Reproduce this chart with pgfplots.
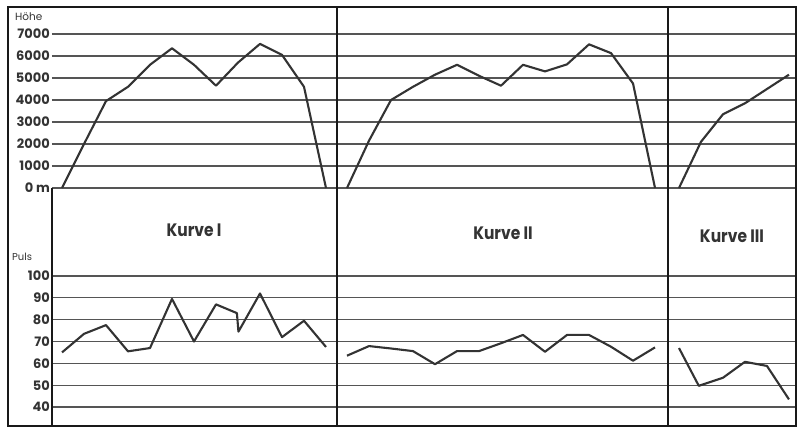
\documentclass[border=0pt]{standalone}
\usepackage{fontspec}
\setmainfont{Poppins}
\newfontfamily\kfont[FakeStretch=0.86]{Poppins}
\usepackage{pgfplots}
\pgfplotsset{compat=1.18}
\definecolor{ink}{HTML}{333333}
\definecolor{gridc}{HTML}{555555}
\pgfplotsset{
  panel/.style={
    scale only axis, anchor=south west,
    axis line style={draw=none},
    major tick length=0pt,
    xtick=\empty,
    ymajorgrids,
    grid style={line width=1.1pt, color=gridc},
    clip=false,
    yticklabel style={font=\bfseries\fontsize{13}{14}\selectfont, text=ink, inner sep=2pt},
  },
  dataline/.style={line width=2.1pt, color=ink, line join=round, no marks},
  top/.style={panel, height=181pt, ymin=0, ymax=8227, ytick={0,1000,...,7000}},
  bot/.style={panel, height=238pt, ymin=31.3, ymax=140.3, ytick={40,50,...,100}},
}
\begin{document}
\begin{tikzpicture}[x=1pt,y=1pt]
\path[use as bounding box] (0,0) rectangle (801,429);
% ---------- Kurve I ----------
\begin{axis}[top, at={(52pt,241pt)}, width=285pt, xmin=-0.4545, xmax=12.5,
  yticklabels={0 m,1000,2000,3000,4000,5000,6000,7000}]
\addplot[dataline] coordinates {(0,0)(1,2000)(2,3950)(3,4600)(4,5600)(5,6350)(6,5600)(7,4650)(8,5700)(9,6550)(10,6050)(11,4600)(12,0)};
\end{axis}
\begin{axis}[bot, at={(52pt,3pt)}, width=285pt, xmin=-0.4545, xmax=12.5,
  yticklabels={40,50,60,70,80,90,100}]
\addplot[dataline] coordinates {(0,65)(1,73.5)(2,77.5)(3,65.5)(4,67)(5,89.5)(6,70)(7,87)(7.95,83)(8.02,74.5)(9,92)(10,72)(11,79.5)(12,67.5)};
\end{axis}
% ---------- Kurve II ----------
\begin{axis}[top, at={(337pt,241pt)}, width=331pt, xmin=-0.4545, xmax=14.59, yticklabels=\empty]
\addplot[dataline] coordinates {(0,0)(1,2150)(2,4000)(3,4600)(4,5150)(5,5600)(6,5100)(7,4650)(8,5600)(9,5300)(10,5620)(11,6530)(12,6130)(13,4750)(14,0)};
\end{axis}
\begin{axis}[bot, at={(337pt,3pt)}, width=331pt, xmin=-0.4545, xmax=14.59, yticklabels=\empty]
\addplot[dataline] coordinates {(0,63.5)(1,67.9)(2,66.8)(3,65.6)(4,59.6)(5,65.6)(6,65.6)(7,69.2)(8,73)(9,65.3)(10,73)(11,73)(12,67.6)(13,61.2)(14,67.3)};
\end{axis}
% ---------- Kurve III ----------
\begin{axis}[top, at={(668pt,241pt)}, width=128pt, xmin=-0.5, xmax=5.32, yticklabels=\empty]
\addplot[dataline] coordinates {(0,0)(1,2100)(2,3350)(3,3850)(4,4500)(5,5150)};
\end{axis}
\begin{axis}[bot, at={(668pt,3pt)}, width=128pt, xmin=-0.5, xmax=5.32, yticklabels=\empty]
\addplot[dataline] coordinates {(0,67)(0.9,49.7)(2,53.4)(3,60.7)(4,58.8)(5,43.5)};
\end{axis}
% ---------- frame ----------
\draw[line width=1.8pt, color=black!90] (8,3) rectangle (796,422);
\draw[line width=1.6pt, color=black!90] (337,3) -- (337,422);
\draw[line width=1.6pt, color=black!90] (668,3) -- (668,422);
\draw[line width=1.4pt, color=black!90] (52,3) -- (52,241);
% ---------- labels ----------
\node[anchor=west, inner sep=0pt, text=ink, font=\fontsize{10.5}{11}\selectfont] at (15,412) {Höhe};
\node[anchor=west, inner sep=0pt, text=ink, font=\fontsize{10}{11}\selectfont] at (12,172) {Puls};
\node[anchor=base, inner sep=0pt, text=ink, font=\kfont\bfseries\fontsize{18}{20}\selectfont] at (194,192) {Kurve I};
\node[anchor=base, inner sep=0pt, text=ink, font=\kfont\bfseries\fontsize{18}{20}\selectfont] at (503,189) {Kurve II};
\node[anchor=base, inner sep=0pt, text=ink, font=\kfont\bfseries\fontsize{18}{20}\selectfont] at (732,186) {Kurve III};
\end{tikzpicture}
\end{document}
